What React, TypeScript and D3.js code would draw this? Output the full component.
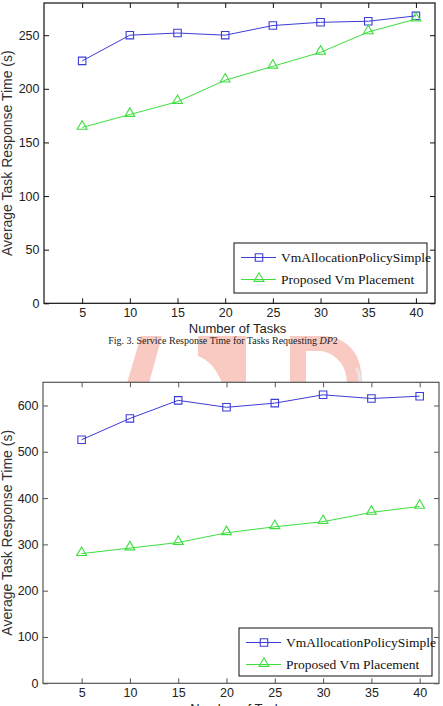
import { useEffect, useRef } from 'react';
import * as d3 from 'd3';

// Number of tasks on the x axis
const tasks = [5, 10, 15, 20, 25, 30, 35, 40];

// Fig. 3 (DP2) average task response time (s)
const simpleDp2 = [226, 250, 252, 250, 259, 262, 263, 268];
const proposedDp2 = [164, 176, 188, 208, 221, 234, 253, 265];

// Second figure average task response time (s)
const simpleDp3 = [526, 572, 611, 596, 605, 623, 615, 620];
const proposedDp3 = [280, 292, 304, 325, 338, 349, 369, 382];

const seriesNames = ['VmAllocationPolicySimple', 'Proposed Vm Placement'];
const xTicks = [5, 10, 15, 20, 25, 30, 35, 40];
const yTicksDp2 = [0, 50, 100, 150, 200, 250];
const yTicksDp3 = [0, 100, 200, 300, 400, 500, 600];

const WIDTH = 443;
const HEIGHT = 706;
const SANS = 'Liberation Sans, Arial, sans-serif';
const SERIF = 'Liberation Serif, Times New Roman, serif';
const BLUE = '#3c3cd8';
const GREEN = '#3ede3e';

interface ChartConfig {
  left: number;
  right: number;
  top: number;
  bottom: number;
  yMax: number;
  yTicks: number[];
  simple: number[];
  proposed: number[];
  legend: { x: number; y: number; w: number; h: number };
  border: string;
}

function drawChart(svg: d3.Selection<SVGSVGElement, unknown, null, undefined>, cfg: ChartConfig) {
  const x = d3.scaleLinear().domain([1, 42]).range([cfg.left, cfg.right]);
  const y = d3.scaleLinear().domain([0, cfg.yMax]).range([cfg.bottom, cfg.top]);

  const g = svg.append('g');

  g.append('rect')
    .attr('x', cfg.left)
    .attr('y', cfg.top)
    .attr('width', cfg.right - cfg.left)
    .attr('height', cfg.bottom - cfg.top)
    .attr('fill', '#fff')
    .attr('stroke', cfg.border)
    .attr('stroke-width', 1.2);

  // Axes with inward ticks on all four sides
  const styleAxis = (sel: d3.Selection<SVGGElement, unknown, null, undefined>) => {
    sel.select('.domain').remove();
    sel.selectAll('line').attr('stroke', cfg.border);
    sel.selectAll('text')
      .attr('fill', '#222')
      .style('font-family', SANS)
      .style('font-size', '12.5px');
  };

  g.append('g')
    .attr('transform', `translate(0,${cfg.bottom})`)
    .call(d3.axisBottom(x).tickValues(xTicks).tickSizeInner(-5).tickSizeOuter(0).tickPadding(5))
    .call(styleAxis);
  g.append('g')
    .attr('transform', `translate(0,${cfg.top})`)
    .call(d3.axisTop(x).tickValues(xTicks).tickSizeInner(-5).tickSizeOuter(0).tickFormat(() => ''))
    .call(styleAxis);
  g.append('g')
    .attr('transform', `translate(${cfg.left},0)`)
    .call(d3.axisLeft(y).tickValues(cfg.yTicks).tickSizeInner(-5).tickSizeOuter(0).tickPadding(4.5))
    .call(styleAxis);
  g.append('g')
    .attr('transform', `translate(${cfg.right},0)`)
    .call(d3.axisRight(y).tickValues(cfg.yTicks).tickSizeInner(-5).tickSizeOuter(0).tickFormat(() => ''))
    .call(styleAxis);

  // Axis titles
  g.append('text')
    .attr('x', (cfg.left + cfg.right) / 2 - 2)
    .attr('y', cfg.bottom + 29.5)
    .attr('text-anchor', 'middle')
    .attr('fill', '#222')
    .style('font-family', SANS)
    .style('font-size', '13px')
    .text('Number of Tasks');
  g.append('text')
    .attr('transform', `translate(11.5,${(cfg.top + cfg.bottom) / 2}) rotate(-90)`)
    .attr('text-anchor', 'middle')
    .attr('fill', '#333')
    .style('font-family', SANS)
    .style('font-size', '14px')
    .text('Average Task Response Time (s)');

  const line = d3.line<number>()
    .x((_d, i) => x(tasks[i]))
    .y(d => y(d));

  const square = d3.symbol().type(d3.symbolSquare).size(56);
  const triangle = d3.symbol().type(d3.symbolTriangle).size(42);

  const series = [
    { values: cfg.simple, color: BLUE, symbol: square, dy: 0 },
    { values: cfg.proposed, color: GREEN, symbol: triangle, dy: -1 },
  ];

  series.forEach(s => {
    g.append('path')
      .attr('d', line(s.values))
      .attr('fill', 'none')
      .attr('stroke', s.color)
      .attr('stroke-width', 1);
    g.append('g')
      .selectAll('path')
      .data(s.values)
      .join('path')
      .attr('transform', (d, i) => `translate(${x(tasks[i])},${y(d) + s.dy})`)
      .attr('d', s.symbol())
      .attr('fill', 'none')
      .attr('stroke', s.color)
      .attr('stroke-width', 1.1);
  });

  // Legend
  const lg = cfg.legend;
  g.append('rect')
    .attr('x', lg.x)
    .attr('y', lg.y)
    .attr('width', lg.w)
    .attr('height', lg.h)
    .attr('fill', '#fff')
    .attr('stroke', '#111')
    .attr('stroke-width', 1);

  series.forEach((s, i) => {
    const cy = lg.y + 14.5 + i * 22;
    g.append('line')
      .attr('x1', lg.x + 7)
      .attr('x2', lg.x + 42)
      .attr('y1', cy)
      .attr('y2', cy)
      .attr('stroke', s.color)
      .attr('stroke-width', 1);
    g.append('path')
      .attr('transform', `translate(${lg.x + 25},${cy + s.dy})`)
      .attr('d', s.symbol())
      .attr('fill', 'none')
      .attr('stroke', s.color)
      .attr('stroke-width', 1.1);
    g.append('text')
      .attr('x', lg.x + 47)
      .attr('y', cy + 4.5)
      .attr('fill', '#111')
      .style('font-family', SERIF)
      .style('font-size', '13.5px')
      .text(seriesNames[i]);
  });
}

export default function App() {
  const svgRef = useRef<SVGSVGElement>(null);

  useEffect(() => {
    document.body.style.margin = '0';
    if (!svgRef.current) return;

    const svg = d3.select(svgRef.current);
    svg.selectAll('*').remove();

    svg.append('rect').attr('width', WIDTH).attr('height', HEIGHT).attr('fill', '#fff');

    // Faint watermark between the two figures
    const wm = svg.append('g').attr('opacity', 0.7);
    const red = '#f7b4a8';
    wm.append('path').attr('d', 'M127,383 L141,336 L162,336 L149,383 Z').attr('fill', red);
    wm.append('path').attr('d', 'M198,336 L246,336 L246,383 L222,383 Q214,362 198,356 Z').attr('fill', red);
    wm.append('path').attr('d', 'M290,336 L326,336 Q362,341 362,383 L290,383 Z').attr('fill', red);
    wm.append('path').attr('d', 'M306,351 L322,351 Q346,357 347,383 L306,383 Z').attr('fill', '#fff');
    wm.append('path').attr('d', 'M356,368 Q360,374 360,382').attr('fill', 'none').attr('stroke', '#ddd').attr('stroke-width', 3);

    drawChart(svg, {
      left: 44,
      right: 435,
      top: 3,
      bottom: 303.3,
      yMax: 280,
      yTicks: yTicksDp2,
      simple: simpleDp2,
      proposed: proposedDp2,
      legend: { x: 234, y: 243, w: 193, h: 50 },
      border: '#111',
    });

    // Caption for the first figure
    const cap = svg.append('text')
      .attr('x', 223)
      .attr('y', 344)
      .attr('text-anchor', 'middle')
      .attr('fill', '#222')
      .style('font-family', SERIF)
      .style('font-size', '10px');
    cap.append('tspan').text('Fig. 3. Service Response Time for Tasks Requesting ');
    cap.append('tspan').style('font-style', 'italic').text('DP');
    cap.append('tspan').text('2');

    drawChart(svg, {
      left: 43,
      right: 439,
      top: 382.3,
      bottom: 683.3,
      yMax: 650,
      yTicks: yTicksDp3,
      simple: simpleDp3,
      proposed: proposedDp3,
      legend: { x: 239, y: 628, w: 193, h: 48 },
      border: '#555',
    });
  }, []);

  return <svg ref={svgRef} width={WIDTH} height={HEIGHT} style={{ display: 'block' }} />;
}
